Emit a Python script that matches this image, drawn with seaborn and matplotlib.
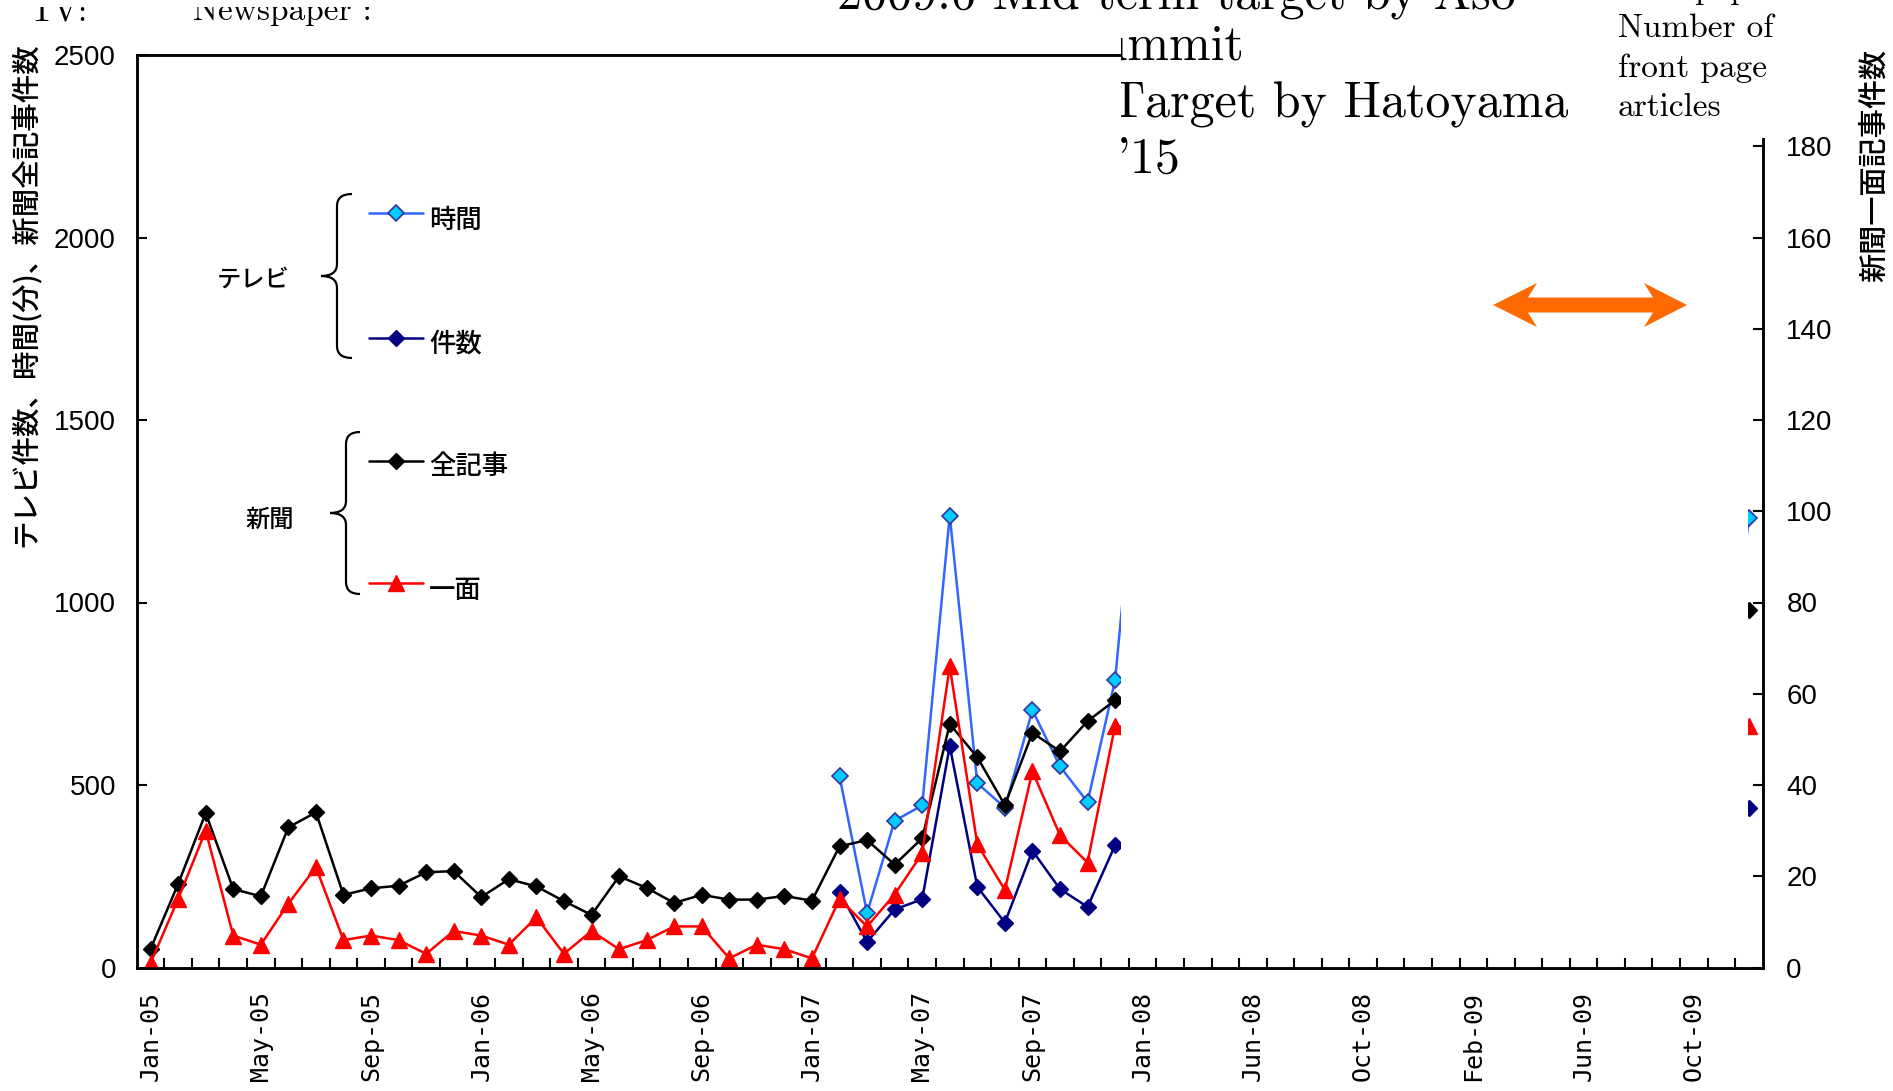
import numpy as np
import pandas as pd
import seaborn as sns
import matplotlib.pyplot as plt
from matplotlib.patches import Rectangle, Polygon, PathPatch
from matplotlib.path import Path
from matplotlib.lines import Line2D
from matplotlib.transforms import Bbox, TransformedBbox

sns.set_style('white', {'axes.edgecolor': 'black', 'text.color': 'black',
                        'xtick.color': 'black', 'ytick.color': 'black'})
plt.rcParams['font.family'] = ['Noto Sans CJK JP', 'DejaVu Sans']

W, H = 1893, 1091
N = np.nan

# monthly categories (the source axis is one month short in spring 2008)
months = pd.date_range('2005-01-01', '2009-12-01', freq='MS')
months = months[months != pd.Timestamp('2008-04-01')]
month_labels = [m.strftime('%b-%y') for m in months]
label_every = 4

# values under the white overlay cannot be read -> NaN
news_all = [51, 229, 423, 215, 195, 384, 425, 199, 217, 224, 261, 264,
            193, 242, 222, 182, 144, 250, 218, 177, 199, 186, 186, 196,
            183, 332, 349, 282, 354, 667, 576, 445, 643, 592, 675, 732] \
    + [N] * 21 + [660, 979]
news_front = [1, 15, 30, 7, 5, 14, 22, 6, 7, 6, 3, 8,
              7, 5, 11, 3, 8, 4, 6, 9, 9, 2, 5, 4,
              2, 15, 9, 16, 25, 66, 27, 17, 43, 29, 23, 53] \
    + [N] * 21 + [30, 53]
tv_time = [N] * 25 + [524, 149, 402, 444, 1238, 505, 438, 705, 551, 453, 787] \
    + [1590] + [N] * 20 + [620, 1231]
tv_count = [N] * 25 + [207, 70, 159, 187, 607, 221, 123, 320, 215, 166, 335] \
    + [N] * 22 + [436]

df = pd.DataFrame({'idx': np.arange(len(months)), 'month': month_labels,
                   'tv_time': tv_time, 'tv_count': tv_count,
                   'news_all': news_all, 'news_front': news_front})

C_TIME, C_TIME_FACE, C_TIME_EDGE = '#3366ff', '#00ccff', '#333399'
C_COUNT = '#000080'
C_ALL = 'black'
C_FRONT = '#ff0000'
STYLES = {
    'tv_time': dict(color=C_TIME, marker='D', markersize=8, markerfacecolor=C_TIME_FACE,
                    markeredgecolor=C_TIME_EDGE, markeredgewidth=1.2),
    'tv_count': dict(color=C_COUNT, marker='D', markersize=8, markerfacecolor=C_COUNT,
                     markeredgecolor=C_COUNT, markeredgewidth=1),
    'news_all': dict(color=C_ALL, marker='D', markersize=8, markerfacecolor=C_ALL,
                     markeredgecolor=C_ALL, markeredgewidth=1),
    'news_front': dict(color=C_FRONT, marker='^', markersize=11.5, markerfacecolor=C_FRONT,
                       markeredgecolor=C_FRONT, markeredgewidth=1),
}


def fx(x):
    return x / W


def fy(y):
    return 1 - y / H


# plot area in pixels (from top-left)
L, R, T, B = 136.8, 1762.7, 55, 967.5
fig = plt.figure(figsize=(W / 100, H / 100), dpi=100)
ax = fig.add_axes([fx(L), fy(B), (R - L) / W, (B - T) / H])
ax2 = ax.twinx()

for col in ['tv_time', 'tv_count', 'news_all']:
    sns.lineplot(data=df, x='idx', y=col, ax=ax, linewidth=1.8,
                 errorbar=None, legend=False, **STYLES[col])
sns.lineplot(data=df, x='idx', y='news_front', ax=ax2, linewidth=1.8,
             errorbar=None, legend=False, **STYLES['news_front'])

n = len(months)
ax.set_xlim(-0.5, n - 0.5)
ax.set_ylim(0, 2500)
ax2.set_ylim(0, 200)
ax.set_yticks(np.arange(0, 2501, 500))
ax2.set_yticks(np.arange(0, 181, 20))
ax.set_xticks(np.arange(0.5, n - 1, 1))
ax.set_xticklabels([])
ax.set_xticks(df['idx'][::label_every], minor=True)
ax.set_xticklabels(df['month'][::label_every], minor=True, rotation=90,
                   fontfamily='DejaVu Sans Mono', fontsize=18, va='top')
ax.set_xlabel('')
ax.set_ylabel('')
ax2.set_ylabel('')

ax.tick_params(axis='x', which='major', direction='in', length=7, width=1.5, bottom=True)
ax.tick_params(axis='x', which='minor', length=0, pad=17, bottom=True)
ax.tick_params(axis='y', direction='in', length=7, width=1.5, left=True, pad=15,
               labelsize=20, labelfontfamily='Liberation Sans')
ax2.tick_params(axis='y', direction='in', length=7, width=1.5, right=True, pad=17,
                labelsize=20, labelfontfamily='Liberation Sans')
for a in (ax, ax2):
    for sp in a.spines.values():
        sp.set_linewidth(1.8)
        sp.set_color('black')
    a.grid(False)

# axis titles
fig.text(fx(26), fy(295), 'テレビ件数、時間(分)、新聞全記事件数', rotation=90,
         ha='center', va='center', fontsize=20.5, fontweight='medium')
fig.text(fx(1874), fy(165), '新聞一面記事件数', rotation=90,
         ha='center', va='center', fontsize=21, fontweight='medium')

# hand-made grouped legend
legend_rows = [('時間', 'tv_time', 213, 220), ('件数', 'tv_count', 338, 344),
               ('全記事', 'news_all', 461, 467), ('一面', 'news_front', 583, 591)]
for text, col, ly, ty in legend_rows:
    st = STYLES[col]
    fig.add_artist(Line2D([fx(369), fx(423)], [fy(ly)] * 2, transform=fig.transFigure,
                          color=st['color'], linewidth=1.8))
    mk = {k: v for k, v in st.items() if k != 'color'}
    fig.add_artist(Line2D([fx(396)], [fy(ly)], transform=fig.transFigure,
                          linestyle='none', **mk))
    fig.text(fx(429), fy(ty), text, ha='left', va='center', fontsize=19,
             fontweight='medium')


def brace(x_end, x_mid, x_cusp, y_top, y_bot, y_cusp, r=12):
    pts = [(x_end, y_top), (x_mid, y_top), (x_mid, y_top + r),
           (x_mid, y_cusp - r), (x_mid, y_cusp), (x_cusp, y_cusp),
           (x_mid, y_cusp), (x_mid, y_cusp + r),
           (x_mid, y_bot - r), (x_mid, y_bot), (x_end, y_bot)]
    codes = [Path.MOVETO, Path.CURVE3, Path.CURVE3, Path.LINETO, Path.CURVE3, Path.CURVE3,
             Path.CURVE3, Path.CURVE3, Path.LINETO, Path.CURVE3, Path.CURVE3]
    path = Path([(fx(x), fy(y)) for x, y in pts], codes)
    fig.add_artist(PathPatch(path, transform=fig.transFigure, fill=False,
                             edgecolor='black', linewidth=1.6))


brace(352, 337, 321, 194, 358, 276)
brace(360, 346, 330, 432, 594, 513)
fig.text(fx(253), fy(280), 'テレビ', ha='center', va='center', fontsize=17.5,
         fontweight='medium')
fig.text(fx(270), fy(520), '新聞', ha='center', va='center', fontsize=17.5,
         fontweight='medium')

# white overlay hiding part of the chart
for x0, x1, y0, y1 in [(1120.5, 1776, -5, 138), (1120.5, 1748, 138, 955)]:
    fig.add_artist(Rectangle((fx(x0), fy(y1)), (x1 - x0) / W, (y1 - y0) / H,
                             transform=fig.transFigure, facecolor='white',
                             edgecolor='none', zorder=5))

# orange double arrow
arrow = [(1493, 305), (1537, 283), (1528, 297.5), (1653, 297.5), (1644, 283),
         (1687, 305), (1644, 327), (1653, 312.5), (1528, 312.5), (1537, 327)]
fig.add_artist(Polygon([(fx(x), fy(y)) for x, y in arrow], closed=True,
                       transform=fig.transFigure, facecolor='#ff6a00',
                       edgecolor='none', zorder=6))

serif = 'cmr10'
right_clip = TransformedBbox(Bbox.from_extents(fx(1120.5), 0, 1, 1), fig.transFigure)
top_clip = TransformedBbox(Bbox.from_extents(0, 0, 1, fy(7)), fig.transFigure)

fig.text(fx(837), fy(9), '2009.6 Mid-term target by Aso', fontfamily=serif,
         fontsize=36, ha='left', va='baseline', zorder=6)
for s, xr, yb in [('Summit', 1244, 60), ('Target by Hatoyama', 1568, 117), ("'15", 1181, 173)]:
    t = fig.text(fx(xr), fy(yb), s, fontfamily=serif, fontsize=36,
                 ha='right', va='baseline', zorder=6)
    t.set_clip_box(right_clip)
    t.set_clip_on(True)

for s, x in [('TV:', 30), ('Newspaper :', 193)]:
    t = fig.text(fx(x), fy(20.5), s, fontfamily=serif, fontsize=24,
                 ha='left', va='baseline', zorder=6)
    t.set_clip_box(top_clip)
    t.set_clip_on(True)

for s, yb in [('Newspaper:', -1), ('Number of', 37), ('front page', 77), ('articles', 116)]:
    fig.text(fx(1618), fy(yb), s, fontfamily=serif, fontsize=24,
             ha='left', va='baseline', zorder=6)

fig.savefig('out.png', dpi=100)
